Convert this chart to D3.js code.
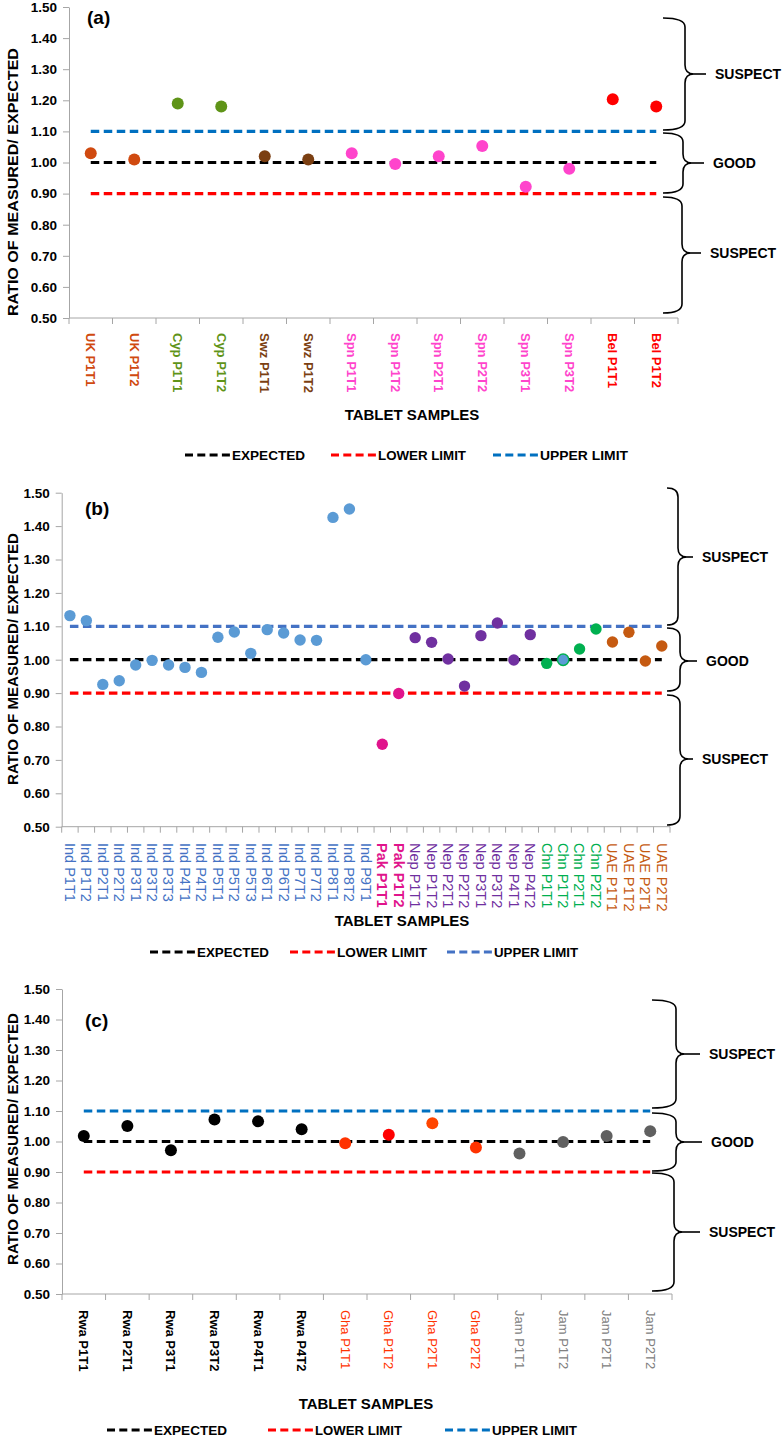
<!DOCTYPE html>
<html><head><meta charset="utf-8">
<script src="https://cdn.jsdelivr.net/npm/d3@7"></script>
<style>
body{margin:0;background:#fff;}
svg{display:block;font-family:"Liberation Sans",Arial,sans-serif;}
</style></head>
<body><svg id="chart" width="782" height="1439"></svg>
<script>
// ---------- DATA ----------
const categoriesA = ["UK P1T1","UK P1T2","Cyp P1T1","Cyp P1T2","Swz P1T1","Swz P1T2","Spn P1T1","Spn P1T2","Spn P2T1","Spn P2T2","Spn P3T1","Spn P3T2","Bel P1T1","Bel P1T2"];
const valuesA = [1.03,1.01,1.19,1.18,1.02,1.01,1.03,0.995,1.02,1.053,0.922,0.98,1.203,1.18];

const categoriesB = ["Ind P1T1","Ind P1T2","Ind P2T1","Ind P2T2","Ind P3T1","Ind P3T2","Ind P3T3","Ind P4T1","Ind P4T2","Ind P5T1","Ind P5T2","Ind P5T3","Ind P6T1","Ind P6T2","Ind P7T1","Ind P7T2","Ind P8T1","Ind P8T2","Ind P9T1","Pak P1T1","Pak P1T2","Nep P1T1","Nep P1T2","Nep P2T1","Nep P2T2","Nep P3T1","Nep P3T2","Nep P4T1","Nep P4T2","Chn P1T1","Chn P1T2","Chn P2T1","Chn P2T2","UAE P1T1","UAE P1T2","UAE P2T1","UAE P2T2"];
const valuesB = [1.132,1.117,0.926,0.937,0.984,0.998,0.984,0.977,0.962,1.067,1.083,1.019,1.090,1.080,1.059,1.058,1.426,1.451,1.0,0.747,0.899,1.066,1.052,1.002,0.921,1.072,1.110,0.999,1.075,0.989,1.0,1.032,1.092,1.053,1.082,0.996,1.041];

const categoriesC = ["Rwa P1T1","Rwa P2T1","Rwa P3T1","Rwa P3T2","Rwa P4T1","Rwa P4T2","Gha P1T1","Gha P1T2","Gha P2T1","Gha P2T2","Jam P1T1","Jam P1T2","Jam P2T1","Jam P2T2"];
const valuesC = [1.018,1.051,0.971,1.072,1.066,1.040,0.994,1.022,1.060,0.980,0.961,0.998,1.018,1.034];

const yTicks = [0.5,0.6,0.7,0.8,0.9,1.0,1.1,1.2,1.3,1.4,1.5];
const refValues = {expected:1.0, lower:0.9, upper:1.1};
const legendLabels = ["EXPECTED","LOWER LIMIT","UPPER LIMIT"];
const bandLabels = ["SUSPECT","GOOD","SUSPECT"];
const yTitle = "RATIO OF MEASURED/ EXPECTED";
const xTitle = "TABLET SAMPLES";

// ---------- STYLES ----------
const labelColor = {UK:"#D04A10",Cyp:"#5F9418",Swz:"#7B3F12",Spn:"#FF44CC",Bel:"#FF0000",
  Ind:"#4472C4",Pak:"#E0148C",Nep:"#7030A0",Chn:"#00B050",UAE:"#C55A11",
  Rwa:"#000000",Gha:"#FF3300",Jam:"#808080"};
const pointColor = {UK:"#D04A10",Cyp:"#5F9418",Swz:"#7B3F12",Spn:"#FF44CC",Bel:"#FF0000",
  Ind:"#5B9BD5",Pak:"#E0148C",Nep:"#7030A0",Chn:"#00B050",UAE:"#C55A11",
  Rwa:"#000000",Gha:"#FF3300",Jam:"#606060"};
const pointOverride = {"Gha P1T2":"#FF0000","Gha P2T1":"#FF4500","Chn P1T2":"#5B9BD5"};
const boldGroups = {UK:1,Cyp:1,Swz:1,Spn:1,Bel:1,Ind:0,Pak:1,Nep:0,Chn:0,UAE:0,Rwa:1,Gha:0,Jam:0};

const panels = [
 {cats:categoriesA, vals:valuesA, tag:"(a)", xL:69, xR:678, yT:7, yB:318, r:6,
  lblY:333, lblSize:13, titleX:412, titleY:415, legY:455, ytC:182, ytLen:268,
  upperColor:"#0070C0", tagX:87, tagY:24,
  legX:[185,331,493], legTextLen:[73,88,88],
  braces:[{t:18,b:130,m:74,x0:663,xv:685,tx:715},{t:133,b:193,m:163,x0:663,xv:683,tx:713},{t:197,b:313,m:253,x0:663,xv:682,tx:710}]},
 {cats:categoriesB, vals:valuesB, tag:"(b)", xL:61.7, xR:670, yT:492.7, yB:826.7, r:5.7,
  lblY:843, lblSize:14.5, titleX:402, titleY:921, legY:952, ytC:659, ytLen:252,
  upperColor:"#4472C4", tagX:85, tagY:515,
  legX:[150,290,447], legTextLen:[72,90,84],
  braces:[{t:488,b:625,m:557,x0:667,xv:678,tx:702},{t:628,b:691,m:661,x0:667,xv:680,tx:706},{t:695,b:825,m:759,x0:667,xv:680,tx:702}]},
 {cats:categoriesC, vals:valuesC, tag:"(c)", xL:62, xR:672, yT:989, yB:1294, r:6,
  lblY:1310, lblSize:13, titleX:366, titleY:1404, legY:1430, ytC:1139, ytLen:252,
  upperColor:"#0070C0", tagX:85, tagY:1027,
  legX:[107,268,445], legTextLen:[73,87,85],
  braces:[{t:1000,b:1108,m:1054,x0:652,xv:676,tx:709},{t:1113,b:1171,m:1142,x0:652,xv:676,tx:711},{t:1173,b:1291,m:1232,x0:652,xv:674,tx:709}]}
];

const svg = d3.select("#chart");
const grp = c => c.split(" ")[0];

panels.forEach(p => {
  const g = svg.append("g");
  const x = d3.scaleBand().domain(p.cats).range([p.xL, p.xR]);
  const y = d3.scaleLinear().domain([0.5,1.5]).range([p.yB, p.yT]);
  const bw = x.bandwidth();

  // y axis
  const ya = g.append("g").attr("transform",`translate(${p.xL},0)`)
    .call(d3.axisLeft(y).tickValues(yTicks).tickFormat(d3.format(".2f")).tickSize(6).tickSizeOuter(0).tickPadding(6));
  ya.select(".domain").attr("stroke","#A6A6A6");
  ya.selectAll(".tick line").attr("stroke","#A6A6A6");
  ya.selectAll(".tick text").attr("font-size",13.5).attr("font-weight","bold").attr("fill","#000")
    .attr("font-family","Liberation Sans, Arial, sans-serif");

  // x axis line + boundary ticks
  g.append("line").attr("x1",p.xL).attr("x2",p.xR).attr("y1",p.yB).attr("y2",p.yB).attr("stroke","#A6A6A6");
  const bounds = p.cats.map(c => x(c)).concat([p.xR]);
  g.selectAll(".xt").data(bounds).join("line")
    .attr("x1",d=>d).attr("x2",d=>d).attr("y1",p.yB).attr("y2",p.yB+6).attr("stroke","#A6A6A6");

  // x labels rotated
  g.selectAll(".xl").data(p.cats).join("text")
    .attr("transform",c=>`translate(${x(c)+bw/2},${p.lblY}) rotate(90)`)
    .attr("dy","0.35em").attr("font-size",p.lblSize)
    .attr("font-weight",c=>boldGroups[grp(c)]?"bold":"normal")
    .attr("fill",c=>labelColor[grp(c)]).text(c=>c);

  // reference lines
  const xs = x(p.cats[0])+bw/2, xe = x(p.cats[p.cats.length-1])+bw/2;
  const refs = [["upper",p.upperColor],["expected","#000"],["lower","#FF0000"]];
  refs.forEach(([k,col]) => {
    g.append("line").attr("x1",xs).attr("x2",xe).attr("y1",y(refValues[k])).attr("y2",y(refValues[k]))
      .attr("stroke",col).attr("stroke-width",3.2).attr("stroke-dasharray","8.5,4.5");
  });

  // points
  g.selectAll(".pt").data(p.cats).join("circle")
    .attr("cx",c=>x(c)+bw/2).attr("cy",(c,i)=>y(p.vals[i])).attr("r",p.r)
    .attr("fill",c=>pointOverride[c]||pointColor[grp(c)])
    .attr("stroke",c=>c==="Chn P1T2"?"#00B050":"none").attr("stroke-width",1.5);

  // panel tag
  g.append("text").attr("x",p.tagX).attr("y",p.tagY).attr("font-size",19).attr("font-weight","bold").text(p.tag);

  // y title
  g.append("text").attr("transform",`translate(13,${p.ytC}) rotate(-90)`)
    .attr("text-anchor","middle").attr("dy","0.35em").attr("font-size",15).attr("font-weight","bold")
    .attr("textLength",p.ytLen).attr("lengthAdjust","spacingAndGlyphs").text(yTitle);

  // x title
  g.append("text").attr("x",p.titleX).attr("y",p.titleY).attr("text-anchor","middle")
    .attr("dy","0.35em").attr("font-size",15).attr("font-weight","bold").text(xTitle);

  // legend
  const legCols = ["#000","#FF0000",p.upperColor];
  legendLabels.forEach((lab,i) => {
    const lx = p.legX[i];
    g.append("line").attr("x1",lx).attr("x2",lx+45).attr("y1",p.legY).attr("y2",p.legY)
      .attr("stroke",legCols[i]).attr("stroke-width",3.2).attr("stroke-dasharray","8,4.3");
    g.append("text").attr("x",lx+47).attr("y",p.legY).attr("dy","0.35em").attr("font-size",13)
      .attr("font-weight","bold").attr("textLength",p.legTextLen[i]).attr("lengthAdjust","spacingAndGlyphs").text(lab);
  });

  // braces
  p.braces.forEach((b,i) => {
    const r = 9;
    const path = `M${b.x0},${b.t} Q${b.xv},${b.t} ${b.xv},${b.t+r} L${b.xv},${b.m-r} Q${b.xv},${b.m} ${b.xv+r},${b.m} Q${b.xv},${b.m} ${b.xv},${b.m+r} L${b.xv},${b.b-r} Q${b.xv},${b.b} ${b.x0},${b.b}`;
    g.append("path").attr("d",path).attr("fill","none").attr("stroke","#000").attr("stroke-width",1.6);
    g.append("line").attr("x1",b.xv+r).attr("x2",b.tx-9).attr("y1",b.m).attr("y2",b.m).attr("stroke","#000").attr("stroke-width",1.6);
    g.append("text").attr("x",b.tx).attr("y",b.m).attr("dy","0.35em").attr("font-size",14)
      .attr("font-weight","bold").text(bandLabels[i]);
  });
});
</script></body></html>
